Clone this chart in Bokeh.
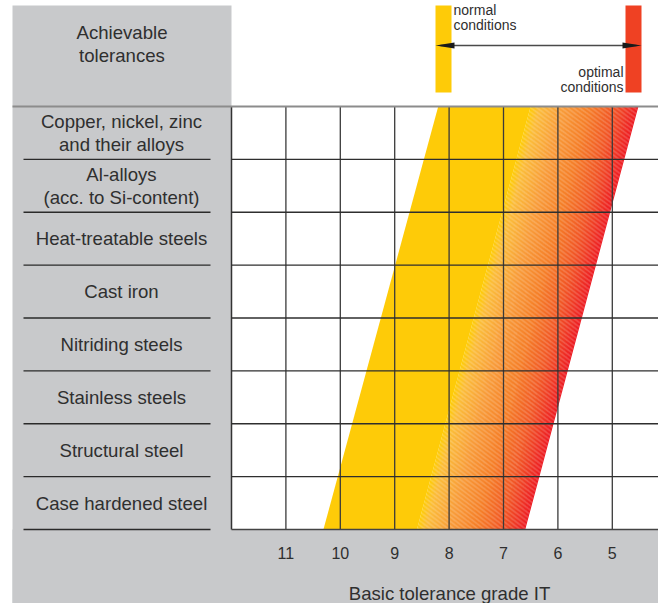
from bokeh.plotting import figure
from bokeh.models import Range1d
from bokeh.core.properties import value
from bokeh.embed import file_html
from bokeh.resources import INLINE

# ---------------- data ----------------
categories = [
    "Copper, nickel, zinc\nand their alloys",
    "Al-alloys\n(acc. to Si-content)",
    "Heat-treatable steels",
    "Cast iron",
    "Nitriding steels",
    "Stainless steels",
    "Structural steel",
    "Case hardened steel",
]
grades = [11, 10, 9, 8, 7, 6, 5]
grade_labels = ["11", "10", "9", "8", "7", "6", "5"]
# band edges (IT grade) at top row edge and bottom row edge:
# [normal-conditions edge, start of gradient, optimal-conditions edge]
band_top = [8.20, 6.50, 4.52]
band_bottom = [10.31, 8.59, 6.60]
header_text = ["Achievable", "tolerances"]
axis_title = "Basic tolerance grade IT"

# ---------------- layout helpers (picture pixels -> data) ----------------
W, H = 658, 603
PX_G12 = 231.0
PX_PER_G = 54.4
PX_ROW0 = 106.0
PX_PER_ROW = 52.875


def gx(px):
    return 12 - (px - PX_G12) / PX_PER_G


def ry(px):
    return (px - PX_ROW0) / PX_PER_ROW


n_rows = len(categories)
X_LEFT, X_RIGHT = gx(0), gx(W)
Y_TOP, Y_BOT = ry(0), ry(H)

GRAY = "#C8C9CB"
YELLOW = "#FECB08"
RED_BAR = "#EF4123"
TXT = "#2f2f2f"
FONT = value("Liberation Sans")

p = figure(width=W, height=H,
           x_range=Range1d(start=X_LEFT, end=X_RIGHT),
           y_range=Range1d(start=Y_BOT, end=Y_TOP),
           output_backend="svg", toolbar_location=None,
           min_border=0, min_border_left=0, min_border_right=0,
           min_border_top=0, min_border_bottom=0,
           x_axis_location=None, y_axis_location=None,
           outline_line_color=None, background_fill_color="white",
           border_fill_color="white")
p.grid.visible = False

# gray panels
p.quad(left=[gx(12)], right=[12], top=[ry(5)], bottom=[Y_BOT],
       fill_color=GRAY, line_color=None)
p.quad(left=[gx(12)], right=[X_RIGHT], top=[n_rows], bottom=[Y_BOT],
       fill_color=GRAY, line_color=None)

# yellow band (normal conditions)
p.patch(x=[band_top[0], band_top[1], band_bottom[1], band_bottom[0]],
        y=[0, 0, n_rows, n_rows], fill_color=YELLOW, line_color=None)

# gradient band toward optimal conditions
stops = [(0.0, (254, 203, 8)), (0.08, (251, 188, 58)), (0.3, (248, 156, 58)),
         (0.55, (245, 126, 40)), (0.78, (241, 86, 38)), (1.0, (237, 28, 36))]


def col(t):
    for (t0, c0), (t1, c1) in zip(stops[:-1], stops[1:]):
        if t <= t1:
            f = (t - t0) / (t1 - t0)
            r, g, b = [round(a + (bb - a) * f) for a, bb in zip(c0, c1)]
            return "#%02x%02x%02x" % (r, g, b)
    return "#%02x%02x%02x" % stops[-1][1]


N = 90
xs, ys, cs = [], [], []
for i in range(N):
    t0, t1 = i / N, min((i + 1.15) / N, 1.0)
    tl = band_top[1] + (band_top[2] - band_top[1]) * t0
    tr = band_top[1] + (band_top[2] - band_top[1]) * t1
    bl = band_bottom[1] + (band_bottom[2] - band_bottom[1]) * t0
    br = band_bottom[1] + (band_bottom[2] - band_bottom[1]) * t1
    xs.append([tl, tr, br, bl])
    ys.append([0, 0, n_rows, n_rows])
    cs.append(col((i + 0.5) / N))
p.patches(xs=xs, ys=ys, fill_color=cs, line_color=None)

# grid: vertical lines at grades
p.segment(x0=grades, y0=[0] * len(grades), x1=grades, y1=[n_rows] * len(grades),
          line_color="#3a3a3a", line_width=1.3)
# left border
p.segment(x0=[12], y0=[0], x1=[12], y1=[n_rows], line_color="#333333", line_width=1.5)
# horizontal row lines in the chart
rows_in = list(range(1, n_rows))
p.segment(x0=[12] * len(rows_in), y0=rows_in, x1=[X_RIGHT] * len(rows_in), y1=rows_in,
          line_color="#2e2e2e", line_width=1.3)
# bottom line
p.segment(x0=[12], y0=[n_rows], x1=[X_RIGHT], y1=[n_rows], line_color="#444444", line_width=1.5)
# top line
p.segment(x0=[gx(12)], y0=[0], x1=[X_RIGHT], y1=[0], line_color="#8c8c8c", line_width=2)
# left label separators
rows_sep = list(range(1, n_rows + 1))
p.segment(x0=[gx(23)] * len(rows_sep), y0=rows_sep, x1=[gx(210)] * len(rows_sep), y1=rows_sep,
          line_color="#2a2a2a", line_width=1.3)

# category labels
lx, ly, lt = [], [], []
half = 11.3 / PX_PER_ROW
for i, c in enumerate(categories):
    lines = c.split("\n")
    if len(lines) == 1:
        lx.append(gx(121)); ly.append(i + 0.5); lt.append(lines[0])
    else:
        lx += [gx(121)] * 2
        ly += [i + 0.5 - half, i + 0.5 + half]
        lt += lines
p.text(x=lx, y=ly, text=lt, text_align="center", text_baseline="middle",
       text_font=FONT, text_font_size="18.6px", text_color=TXT)

# header
p.text(x=[gx(121.5)] * 2, y=[ry(32), ry(55)], text=header_text, text_align="center",
       text_baseline="middle", text_font=FONT, text_font_size="18.6px", text_color=TXT)

# tick labels
p.text(x=grades, y=[ry(552)] * len(grades), text=grade_labels, text_align="center",
       text_baseline="middle", text_font=FONT, text_font_size="16px", text_color=TXT)
# axis title
p.text(x=[gx(449)], y=[ry(593)], text=[axis_title], text_align="center",
       text_baseline="middle", text_font=FONT, text_font_size="18.6px", text_color=TXT)

# legend bars at top
p.quad(left=[gx(435)], right=[gx(451)], top=[ry(5)], bottom=[ry(92)],
       fill_color=YELLOW, line_color=None)
p.quad(left=[gx(625)], right=[gx(641)], top=[ry(5)], bottom=[ry(92)],
       fill_color=RED_BAR, line_color=None)
# double arrow
p.segment(x0=[gx(440)], y0=[ry(45)], x1=[gx(636)], y1=[ry(45)], line_color="#4a4a4a", line_width=1.5)
p.patches(xs=[[gx(435), gx(454), gx(454)], [gx(641), gx(622), gx(622)]],
          ys=[[ry(45), ry(42), ry(48)], [ry(45), ry(42), ry(48)]],
          fill_color="#1a1a1a", line_color=None)
p.text(x=[gx(453)] * 2, y=[ry(9), ry(24.5)], text=["normal", "conditions"],
       text_align="left", text_baseline="middle", text_font=FONT,
       text_font_size="14px", text_color=TXT)
p.text(x=[gx(623)] * 2, y=[ry(71), ry(86)], text=["optimal", "conditions"],
       text_align="right", text_baseline="middle", text_font=FONT,
       text_font_size="14px", text_color=TXT)

open("out.html", "w").write(file_html(p, INLINE))
